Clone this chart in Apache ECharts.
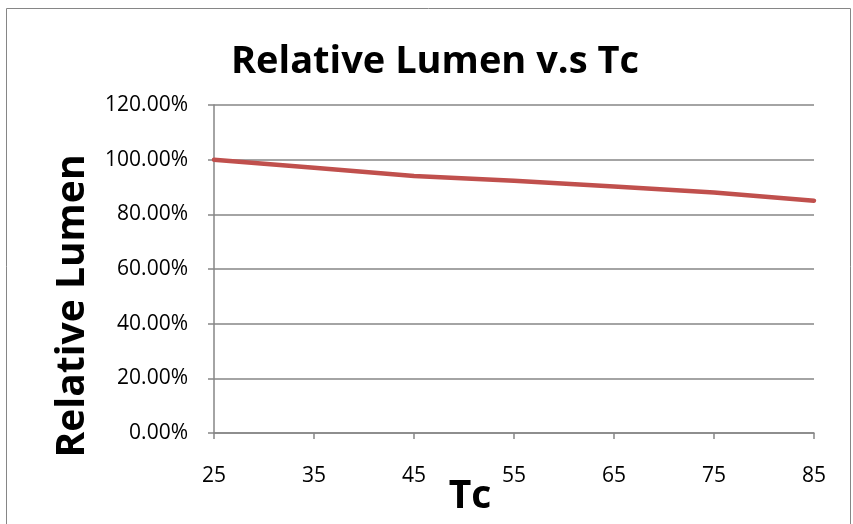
<!DOCTYPE html>
<html><head><meta charset="utf-8">
<script src="https://cdn.jsdelivr.net/npm/echarts@6/dist/echarts.min.js"></script>
<style>html,body{margin:0;padding:0;background:#fff}#c{width:853px;height:524px}</style>
</head><body><div id="c"></div>
<script>
const categories = ['25','35','45','55','65','75','85'];
const relativeLumen = [1.00, 0.97, 0.94, 0.923, 0.902, 0.88, 0.85];
const titleText = 'Relative Lumen v.s Tc';
const xName = 'Tc';
const yName = 'Relative Lumen';

const FONT = '"Open Sans",sans-serif';
const chart = echarts.init(document.getElementById('c'));
chart.setOption({
  animation: false,
  backgroundColor: '#fff',
  title: {
    text: titleText, left: 430, top: 38, textAlign: 'center',
    textStyle: {fontFamily: FONT, fontWeight: 'bold', fontSize: 38, color: '#000'}
  },
  graphic: [
    {type: 'rect', shape: {x: 6.5, y: 8.5, width: 844, height: 530},
      style: {fill: 'none', stroke: '#868686', lineWidth: 1}},
    {type: 'text', x: 73, y: 306, rotation: Math.PI / 2,
      style: {text: yName, fontFamily: FONT, fontWeight: 'bold', fontSize: 39, fill: '#000',
        align: 'center', verticalAlign: 'middle'}},
    {type: 'text', x: 470, y: 497,
      style: {text: xName, fontFamily: FONT, fontWeight: 'bold', fontSize: 39, fill: '#000',
        align: 'center', verticalAlign: 'middle'}}
  ],
  grid: {left: 214, right: 39, top: 105, bottom: 91},
  xAxis: {
    type: 'category', data: categories, boundaryGap: false,
    axisLine: {lineStyle: {color: '#868686', width: 1.5}},
    axisTick: {show: true, length: 6, alignWithLabel: true, lineStyle: {color: '#868686', width: 1.5}},
    axisLabel: {fontFamily: FONT, fontSize: 21, color: '#000', margin: 33}
  },
  yAxis: {
    type: 'value', min: 0, max: 1.2, interval: 0.2,
    axisLine: {show: true, lineStyle: {color: '#868686', width: 1.5}},
    axisTick: {show: true, length: 6, lineStyle: {color: '#868686', width: 1.5}},
    splitLine: {lineStyle: {color: '#868686', width: 1.5}},
    axisLabel: {fontFamily: FONT, fontSize: 21, color: '#000', margin: 26,
      formatter: v => (v * 100).toFixed(2) + '%'}
  },
  series: [{
    type: 'line', data: relativeLumen, symbol: 'none', smooth: false,
    lineStyle: {color: '#C0504D', width: 4.5, cap: 'round'}
  }]
});
</script></body></html>
